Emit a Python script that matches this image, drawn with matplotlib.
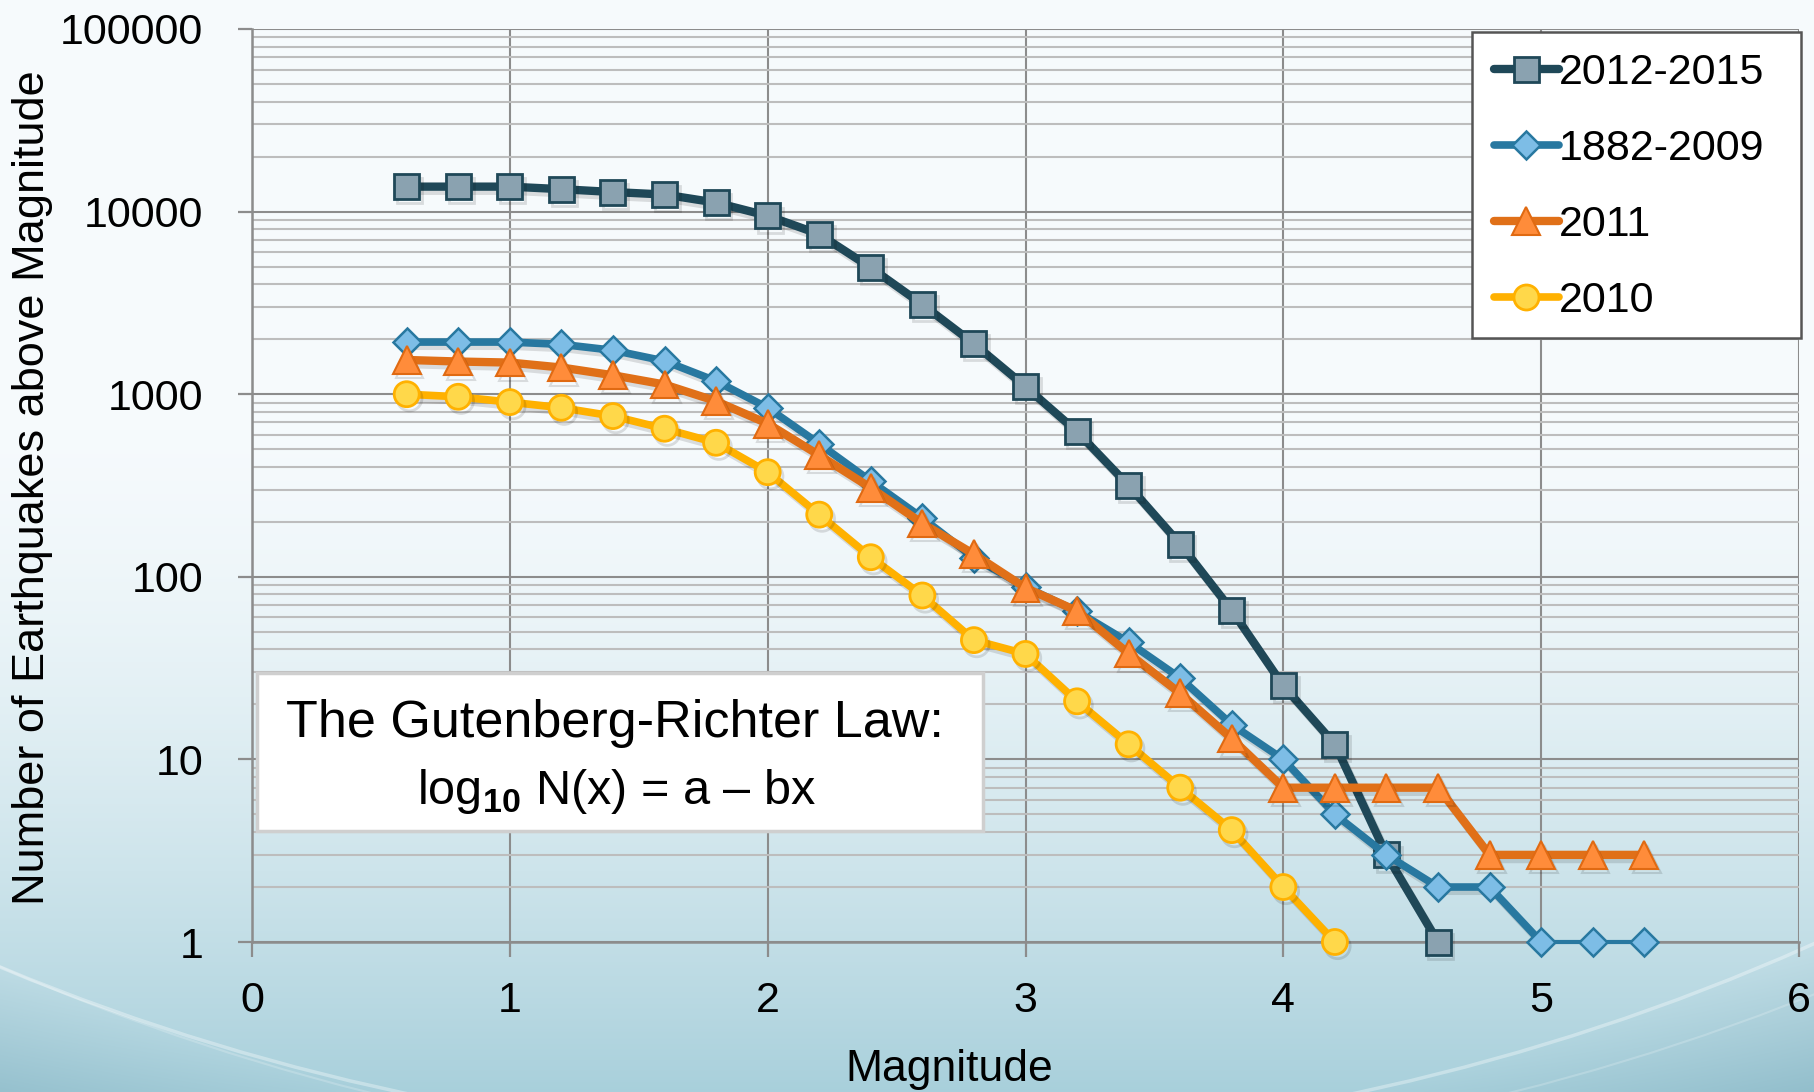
import numpy as np
import matplotlib
matplotlib.use("Agg")
import matplotlib.pyplot as plt
import matplotlib.patheffects as pe
from matplotlib.lines import Line2D
from matplotlib.ticker import LogLocator, NullFormatter, FixedLocator, FixedFormatter
from matplotlib.patches import Rectangle, Circle

plt.rcParams['font.family'] = ['Liberation Sans', 'DejaVu Sans']
plt.rcParams['mathtext.fontset'] = 'custom'
plt.rcParams['mathtext.rm'] = 'Liberation Sans'
plt.rcParams['mathtext.bf'] = 'Liberation Sans:bold'

# ---- data: cumulative number of earthquakes above each magnitude ----
mag_2012_2015 = [0.6, 0.8, 1.0, 1.2, 1.4, 1.6, 1.8, 2.0, 2.2, 2.4, 2.6, 2.8, 3.0,
                 3.2, 3.4, 3.6, 3.8, 4.0, 4.2, 4.4, 4.6]
n_2012_2015 = [13700, 13700, 13700, 13270, 12800, 12400, 11200, 9480, 7520, 4930,
               3100, 1890, 1100, 623, 316, 151, 65.5, 25.3, 12.1, 3, 1]

mag_1882_2009 = [0.6, 0.8, 1.0, 1.2, 1.4, 1.6, 1.8, 2.0, 2.2, 2.4, 2.6, 2.8, 3.0,
                 3.2, 3.4, 3.6, 3.8, 4.0, 4.2, 4.4, 4.6, 4.8, 5.0, 5.2, 5.4]
n_1882_2009 = [1930, 1930, 1930, 1875, 1740, 1520, 1180, 843, 535, 334, 210, 127, 88,
               64.7, 43.8, 27.9, 15.5, 10, 5, 3, 2, 2, 1, 1, 1]

mag_2011 = [0.6, 0.8, 1.0, 1.2, 1.4, 1.6, 1.8, 2.0, 2.2, 2.4, 2.6, 2.8, 3.0,
            3.2, 3.4, 3.6, 3.8, 4.0, 4.2, 4.4, 4.6, 4.8, 5.0, 5.2, 5.4]
n_2011 = [1540, 1510, 1490, 1400, 1270, 1130, 916, 690, 463, 307, 196, 133, 87,
          65, 38, 23, 13, 7, 7, 7, 7, 3, 3, 3, 3]

mag_2010 = [0.6, 0.8, 1.0, 1.2, 1.4, 1.6, 1.8, 2.0, 2.2, 2.4, 2.6, 2.8, 3.0,
            3.2, 3.4, 3.6, 3.8, 4.0, 4.2]
n_2010 = [1000, 968, 905, 843, 759, 647, 542, 374, 219, 128, 79, 45, 37.8,
          20.8, 12.1, 7.0, 4.1, 2, 1]

series_labels = ['2012-2015', '1882-2009', '2011', '2010']
x_ticks = [0, 1, 2, 3, 4, 5, 6]
y_ticks = [1, 10, 100, 1000, 10000, 100000]
y_tick_labels = ['1', '10', '100', '1000', '10000', '100000']

W, H, DPI = 1814, 1092, 100
fig = plt.figure(figsize=(W / DPI, H / DPI), dpi=DPI)

# ---- slide-style background: white at top fading to pale teal at the bottom ----
bg = fig.add_axes([0, 0, 1, 1], zorder=-10)
bg.set_axis_off()
ny, nx = 546, 907
py, px = np.mgrid[0:H:ny * 1j, 0:W:nx * 1j]      # pixel rows (top=0) and columns
t = np.clip((py - 380) / (H - 380), 0, 1) ** 1.7
top = np.array([0.968, 0.984, 0.992])
bot = np.array([0.66, 0.815, 0.86])
img = top * (1 - t[..., None]) + bot * t[..., None]
# darker corners outside a huge bowl-shaped arc
cx, cy, R = 880.0, -1146.0, 2289.0
dist = np.hypot(px - cx, py - cy)
outside = np.clip((dist - R) / 160.0, 0, 1)
img = img - outside[..., None] * np.array([0.10, 0.08, 0.07])
img = np.clip(img, 0, 1)
bg.imshow(img, extent=[0, W, H, 0], aspect='auto', origin='upper', interpolation='bilinear')
bg.set_xlim(0, W)
bg.set_ylim(H, 0)
bg.add_patch(Circle((cx, cy), R, fill=False, ec='white', lw=2.5, alpha=0.35))
bg.add_patch(Circle((cx + 60, cy - 40), R + 60, fill=False, ec='white', lw=1.5, alpha=0.2))

# ---- main axes ----
ax = fig.add_axes([252 / W, 1 - 942 / H, (1799 - 252) / W, (942 - 29) / H])
ax.set_facecolor('none')
ax.set_yscale('log')
ax.set_xlim(0, 6)
ax.set_ylim(1, 100000)

ax.xaxis.set_major_locator(FixedLocator(x_ticks))
ax.yaxis.set_major_locator(FixedLocator(y_ticks))
ax.yaxis.set_major_formatter(FixedFormatter(y_tick_labels))
ax.yaxis.set_minor_locator(LogLocator(base=10, subs=np.arange(2, 10)))
ax.yaxis.set_minor_formatter(NullFormatter())

major_c = '#8c8c8c'
minor_c = '#bdbdbd'
ax.grid(True, which='major', axis='both', color=major_c, lw=1.5, zorder=0)
ax.grid(True, which='minor', axis='y', color=minor_c, lw=1.5, zorder=0)
ax.set_axisbelow(True)
for s in ['top', 'right']:
    ax.spines[s].set_visible(False)
for s in ['left', 'bottom']:
    ax.spines[s].set_color(major_c)
    ax.spines[s].set_linewidth(1.8)

ax.tick_params(axis='both', which='major', direction='out', length=10, width=1.6,
               color=major_c, labelsize=31, labelcolor='black')
ax.tick_params(axis='y', which='major', pad=25)
ax.tick_params(axis='x', which='major', length=11, pad=17)
ax.tick_params(axis='y', which='minor', length=0)

shadow = [pe.SimpleLineShadow(offset=(2, -3), shadow_color='black', alpha=0.12), pe.Normal()]

c_a, f_a = '#1f4858', '#8aa2b0'
c_b, f_b = '#2878a0', '#7dbde6'
c_c, f_c, e_c = '#e07018', '#ff8c3a', '#e06a12'
c_d, f_d = '#ffb100', '#ffd84a'

ax.plot(mag_2012_2015, n_2012_2015, color=c_a, lw=6, marker='s', ms=18,
        mfc=f_a, mec=c_a, mew=2, zorder=3, clip_on=False,
        path_effects=shadow, solid_capstyle='round')

# 1882-2009: thinner line on the final flat run
k = mag_1882_2009.index(5.0)
ax.plot(mag_1882_2009[:k + 1], n_1882_2009[:k + 1], color=c_b, lw=5.5,
        zorder=4, path_effects=shadow, solid_capstyle='round', clip_on=False)
ax.plot(mag_1882_2009[k:], n_1882_2009[k:], color=c_b, lw=3, zorder=4, clip_on=False)
ax.plot(mag_1882_2009, n_1882_2009, ls='none', marker='D', ms=14,
        mfc=f_b, mec=c_b, mew=1.8, zorder=4.5, clip_on=False)

ax.plot(mag_2011, n_2011, color=c_c, lw=6, marker='^', ms=20,
        mfc=f_c, mec=e_c, mew=1.5, zorder=5, clip_on=False,
        path_effects=shadow, solid_capstyle='round')

ax.plot(mag_2010, n_2010, color=c_d, lw=5.5, marker='o', ms=18,
        mfc=f_d, mec=c_d, mew=2, zorder=6, clip_on=False,
        path_effects=shadow, solid_capstyle='round')

handles = [
    Line2D([], [], color=c_a, lw=6, marker='s', ms=18, mfc=f_a, mec=c_a, mew=2,
           solid_capstyle='round'),
    Line2D([], [], color=c_b, lw=5.5, marker='D', ms=14, mfc=f_b, mec=c_b, mew=1.8,
           solid_capstyle='round'),
    Line2D([], [], color=c_c, lw=6, marker='^', ms=20, mfc=f_c, mec=e_c, mew=1.5,
           solid_capstyle='round'),
    Line2D([], [], color=c_d, lw=5.5, marker='o', ms=18, mfc=f_d, mec=c_d, mew=2,
           solid_capstyle='round'),
]

# legend frame drawn as a plain rectangle, entries placed inside it
frame = Rectangle((1472 / W, 1 - 338 / H), (1801 - 1472) / W, (338 - 32) / H,
                  transform=fig.transFigure, facecolor='white', edgecolor='#555555',
                  lw=1.8, zorder=19)
fig.add_artist(frame)
leg = fig.legend(handles=handles, labels=series_labels,
                 loc='upper left', bbox_to_anchor=(1494 / W, 1 - 53 / H),
                 fontsize=31, numpoints=1, handlelength=1.5, handletextpad=0.0,
                 labelspacing=0.84, borderpad=0, borderaxespad=0, frameon=False)
leg.set_zorder(20)

# ---- Gutenberg-Richter annotation box ----
box = Rectangle((257 / W, 1 - 831 / H), (983 - 257) / W, (831 - 673) / H,
                transform=fig.transFigure, facecolor='white', edgecolor='#cfcfcf',
                lw=2.5, zorder=10)
fig.add_artist(box)
fig.text(615 / W, 1 - 737 / H, 'The Gutenberg-Richter Law:', ha='center',
         va='baseline', fontsize=37.5, zorder=11)
fig.text(617 / W, 1 - 804 / H, r'log$_{\mathbf{10}}$ N(x) = a – bx',
         ha='center', va='baseline', fontsize=35, zorder=11)

# ---- axis titles ----
fig.text(33 / W, 1 - 488 / H, 'Number of Earthquakes above Magnitude',
         rotation=90, ha='center', va='center', fontsize=32.5)
fig.text(949 / W, 1 - 1081 / H, 'Magnitude', ha='center', va='baseline', fontsize=32)

fig.savefig('out.png', dpi=DPI)
